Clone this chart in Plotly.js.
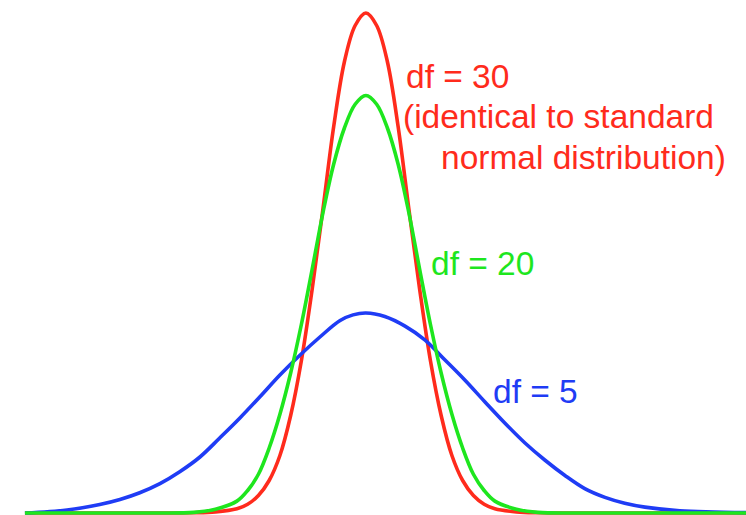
<!DOCTYPE html>
<html>
<head>
<meta charset="utf-8">
<script src="https://cdn.plot.ly/plotly-3.0.1.min.js"></script>
<style>html,body{margin:0;padding:0;background:#fff;}#chart{width:746px;height:515px;}</style>
</head>
<body>
<div id="chart"></div>
<script>
// t-values (x) and densities (y)
const redX = [-7.93, -5, -4, -3.5, -3, -2.75, -2.5, -2.25, -2, -1.75, -1.5, -1.25, -1, -0.75, -0.5, -0.25, 0, 0.25, 0.5, 0.75, 1, 1.25, 1.5, 1.75, 2, 2.25, 2.5, 2.75, 3, 3.5, 4, 5, 8.9];
const redY = [0, 0, 0.0002, 0.0009, 0.0034, 0.007, 0.014, 0.026, 0.046, 0.078, 0.122, 0.179, 0.243, 0.309, 0.361, 0.390, 0.400, 0.390, 0.361, 0.309, 0.243, 0.179, 0.122, 0.078, 0.046, 0.026, 0.014, 0.007, 0.0034, 0.0009, 0.0002, 0, 0];

const greenX = [-7.93, -5, -4, -3.5, -3, -2.75, -2.5, -2.25, -2, -1.75, -1.5, -1.25, -1, -0.75, -0.5, -0.25, 0, 0.25, 0.5, 0.75, 1, 1.25, 1.5, 1.75, 2, 2.25, 2.5, 2.75, 3, 3.5, 4, 5, 8.9];
const greenY = [0, 0, 0.0005, 0.003, 0.0095, 0.018, 0.031, 0.052, 0.079, 0.112, 0.151, 0.195, 0.240, 0.279, 0.308, 0.327, 0.334, 0.327, 0.308, 0.279, 0.240, 0.195, 0.151, 0.112, 0.079, 0.052, 0.031, 0.018, 0.0095, 0.003, 0.0005, 0, 0];

const blueX = [-7.93, -6.95, -6.19, -5.72, -5.26, -4.79, -4.33, -3.86, -3.40, -2.93, -2.47, -2.0, -1.53, -1.07, -0.60, -0.30, 0, 0.44, 0.91, 1.37, 1.84, 2.30, 2.77, 3.23, 3.70, 4.16, 4.63, 5.09, 5.56, 6.02, 6.49, 7.30, 8.84];
const blueY = [0, 0.0024, 0.0068, 0.0108, 0.0162, 0.0235, 0.033, 0.0448, 0.060, 0.076, 0.0928, 0.1104, 0.1264, 0.1408, 0.1540, 0.1585, 0.160, 0.1572, 0.1495, 0.1385, 0.1224, 0.1064, 0.0888, 0.072, 0.056, 0.0424, 0.030, 0.0195, 0.0125, 0.0078, 0.0047, 0.0018, 0.0003];

const labels = {
  red1: 'df = 30',
  red2: '(identical to standard',
  red3: 'normal distribution)',
  green: 'df = 20',
  blue: 'df = 5'
};

const RED = '#ff2b1c', GREEN = '#1ee61e', BLUE = '#1f3cf5';
const FONT = 'Liberation Sans, Arial, sans-serif';

function tr(x, y, c) {
  return {x: x, y: y, type: 'scatter', mode: 'lines',
    line: {color: c, width: 3.6, shape: 'spline', smoothing: 1},
    hoverinfo: 'skip', showlegend: false};
}

const data = [tr(redX, redY, RED), tr(blueX, blueY, BLUE), tr(greenX, greenY, GREEN)];

function ann(text, px, py, color) {
  return {text: text, xref: 'paper', yref: 'paper', x: px / 746, y: 1 - py / 515,
    xanchor: 'left', yanchor: 'middle', showarrow: false,
    font: {family: FONT, size: 33.5, color: color}};
}

const layout = {
  width: 746, height: 515,
  margin: {l: 0, r: 0, t: 0, b: 0},
  paper_bgcolor: '#ffffff', plot_bgcolor: '#ffffff',
  xaxis: {range: [-8.51, 8.84], visible: false, fixedrange: true},
  yaxis: {range: [-0.0016, 0.4104], visible: false, fixedrange: true},
  showlegend: false,
  annotations: [
    ann(labels.red1, 404, 76, RED),
    ann(labels.red2, 401, 117, RED),
    ann(labels.red3, 439, 157, RED),
    ann(labels.green, 429, 263, GREEN),
    ann(labels.blue, 491, 391, BLUE)
  ]
};

Plotly.newPlot('chart', data, layout, {staticPlot: true, displayModeBar: false});
</script>
</body>
</html>
